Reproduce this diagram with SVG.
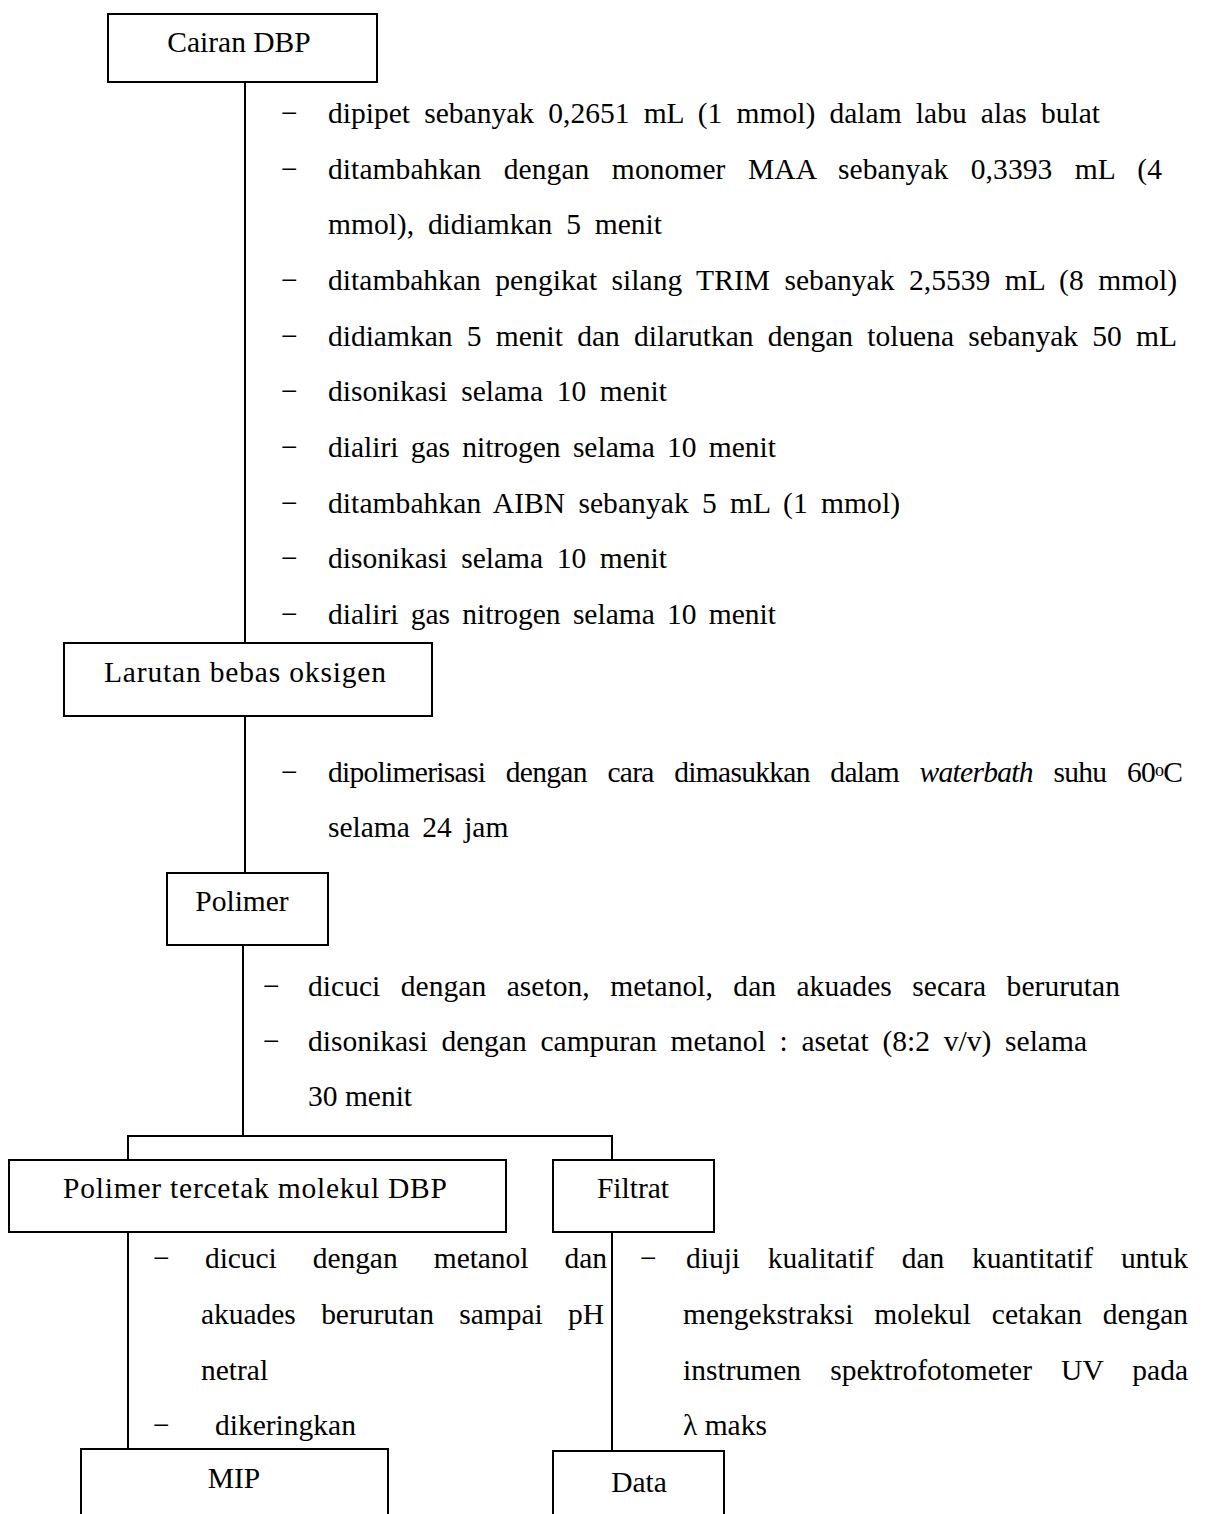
<svg xmlns="http://www.w3.org/2000/svg" width="1205" height="1514" viewBox="0 0 1205 1514">
<style>
.t{font-family:"Liberation Serif","Times New Roman",serif;font-size:29.5px;fill:#000}
.m{text-anchor:middle}
.box{fill:#fff;stroke:#000;stroke-width:2}
.ln{stroke:#000;stroke-width:2;fill:none}
</style>
<rect width="1205" height="1514" fill="#fff"/>
<g id="connectors">
<line class="ln" x1="245" y1="82" x2="245" y2="643"/>
<line class="ln" x1="245" y1="716" x2="245" y2="873"/>
<line class="ln" x1="243" y1="945" x2="243" y2="1136"/>
<polyline class="ln" points="128,1160 128,1136 612,1136 612,1160"/>
<line class="ln" x1="128" y1="1232" x2="128" y2="1449"/>
<line class="ln" x1="612" y1="1232" x2="612" y2="1451"/>
</g>
<g id="n-cairan"><rect class="box" x="108" y="14" width="269" height="68"/><text class="t m" x="239" y="52">Cairan DBP</text></g>
<g id="n-larutan"><rect class="box" x="64" y="643" width="368" height="73"/><text class="t" x="104" y="682" textLength="282" lengthAdjust="spacing">Larutan  bebas oksigen</text></g>
<g id="n-polimer"><rect class="box" x="167" y="873" width="161" height="72"/><text class="t m" x="242" y="911">Polimer</text></g>
<g id="n-polimer-tercetak"><rect class="box" x="9" y="1160" width="497" height="72"/><text class="t" x="63" y="1198" textLength="384" lengthAdjust="spacing">Polimer  tercetak  molekul  DBP</text></g>
<g id="n-filtrat"><rect class="box" x="553" y="1160" width="161" height="72"/><text class="t m" x="633" y="1198">Filtrat</text></g>
<g id="n-mip"><rect class="box" x="81" y="1449" width="307" height="90"/><text class="t m" x="234" y="1488">MIP</text></g>
<g id="n-data"><rect class="box" x="553" y="1451" width="171" height="90"/><text class="t m" x="639" y="1492">Data</text></g>
<g id="steps-1">
<text class="t" x="281" y="123">−</text><text class="t" x="328" y="123" word-spacing="6.8" textLength="772" lengthAdjust="spacing">dipipet sebanyak 0,2651 mL (1 mmol) dalam labu alas bulat</text>
<text class="t" x="281" y="179">−</text><text class="t" x="328" y="179" word-spacing="15" textLength="834" lengthAdjust="spacing">ditambahkan dengan monomer MAA sebanyak 0,3393 mL (4</text>
<text class="t" x="328" y="234" word-spacing="6.5" textLength="334" lengthAdjust="spacing">mmol), didiamkan 5 menit</text>
<text class="t" x="281" y="290">−</text><text class="t" x="328" y="290" word-spacing="7" textLength="849" lengthAdjust="spacing">ditambahkan pengikat silang TRIM sebanyak 2,5539 mL (8 mmol)</text>
<text class="t" x="281" y="346">−</text><text class="t" x="328" y="346" word-spacing="6.9" textLength="849" lengthAdjust="spacing">didiamkan 5 menit dan dilarutkan dengan toluena sebanyak 50 mL</text>
<text class="t" x="281" y="401">−</text><text class="t" x="328" y="401" word-spacing="6.3" textLength="339" lengthAdjust="spacing">disonikasi selama 10 menit</text>
<text class="t" x="281" y="457">−</text><text class="t" x="328" y="457" word-spacing="4.9" textLength="448" lengthAdjust="spacing">dialiri gas nitrogen selama 10 menit</text>
<text class="t" x="281" y="513">−</text><text class="t" x="328" y="513" word-spacing="5.7" textLength="572" lengthAdjust="spacing">ditambahkan AIBN sebanyak 5 mL (1 mmol)</text>
<text class="t" x="281" y="568">−</text><text class="t" x="328" y="568" word-spacing="6.3" textLength="339" lengthAdjust="spacing">disonikasi selama 10 menit</text>
<text class="t" x="281" y="624">−</text><text class="t" x="328" y="624" word-spacing="4.9" textLength="448" lengthAdjust="spacing">dialiri gas nitrogen selama 10 menit</text>
</g>
<g id="steps-2">
<text class="t" x="281" y="782">−</text><text class="t" x="328" y="782" word-spacing="14" textLength="855" lengthAdjust="spacing">dipolimerisasi dengan cara dimasukkan dalam <tspan font-style="italic">waterbath</tspan> suhu 60<tspan font-size="18" dy="-6">o</tspan><tspan dy="6">C</tspan></text>
<text class="t" x="328" y="837" word-spacing="5">selama 24 jam</text>
</g>
<g id="steps-3">
<text class="t" x="263" y="996">−</text><text class="t" x="308" y="996" word-spacing="13" textLength="812" lengthAdjust="spacing">dicuci dengan aseton, metanol, dan akuades secara berurutan</text>
<text class="t" x="263" y="1051">−</text><text class="t" x="308" y="1051" word-spacing="6.4" textLength="779" lengthAdjust="spacing">disonikasi dengan campuran metanol : asetat (8:2 v/v) selama</text>
<text class="t" x="308" y="1106">30 menit</text>
</g>
<g id="steps-4">
<text class="t" x="153" y="1268">−</text><text class="t" x="205" y="1268" word-spacing="29" textLength="402" lengthAdjust="spacing">dicuci dengan metanol dan</text>
<text class="t" x="201" y="1324" word-spacing="18" textLength="403" lengthAdjust="spacing">akuades berurutan sampai pH</text>
<text class="t" x="201" y="1380">netral</text>
<text class="t" x="153" y="1435">−</text><text class="t" x="215" y="1435">dikeringkan</text>
</g>
<g id="steps-5">
<text class="t" x="640" y="1268">−</text><text class="t" x="686" y="1268" word-spacing="20.4" textLength="502" lengthAdjust="spacing">diuji kualitatif dan kuantitatif untuk</text>
<text class="t" x="683" y="1324" word-spacing="13.5" textLength="505" lengthAdjust="spacing">mengekstraksi molekul cetakan dengan</text>
<text class="t" x="683" y="1380" word-spacing="21.7" textLength="505" lengthAdjust="spacing">instrumen spektrofotometer UV pada</text>
<text class="t" x="683" y="1435">λ maks</text>
</g>
</svg>
